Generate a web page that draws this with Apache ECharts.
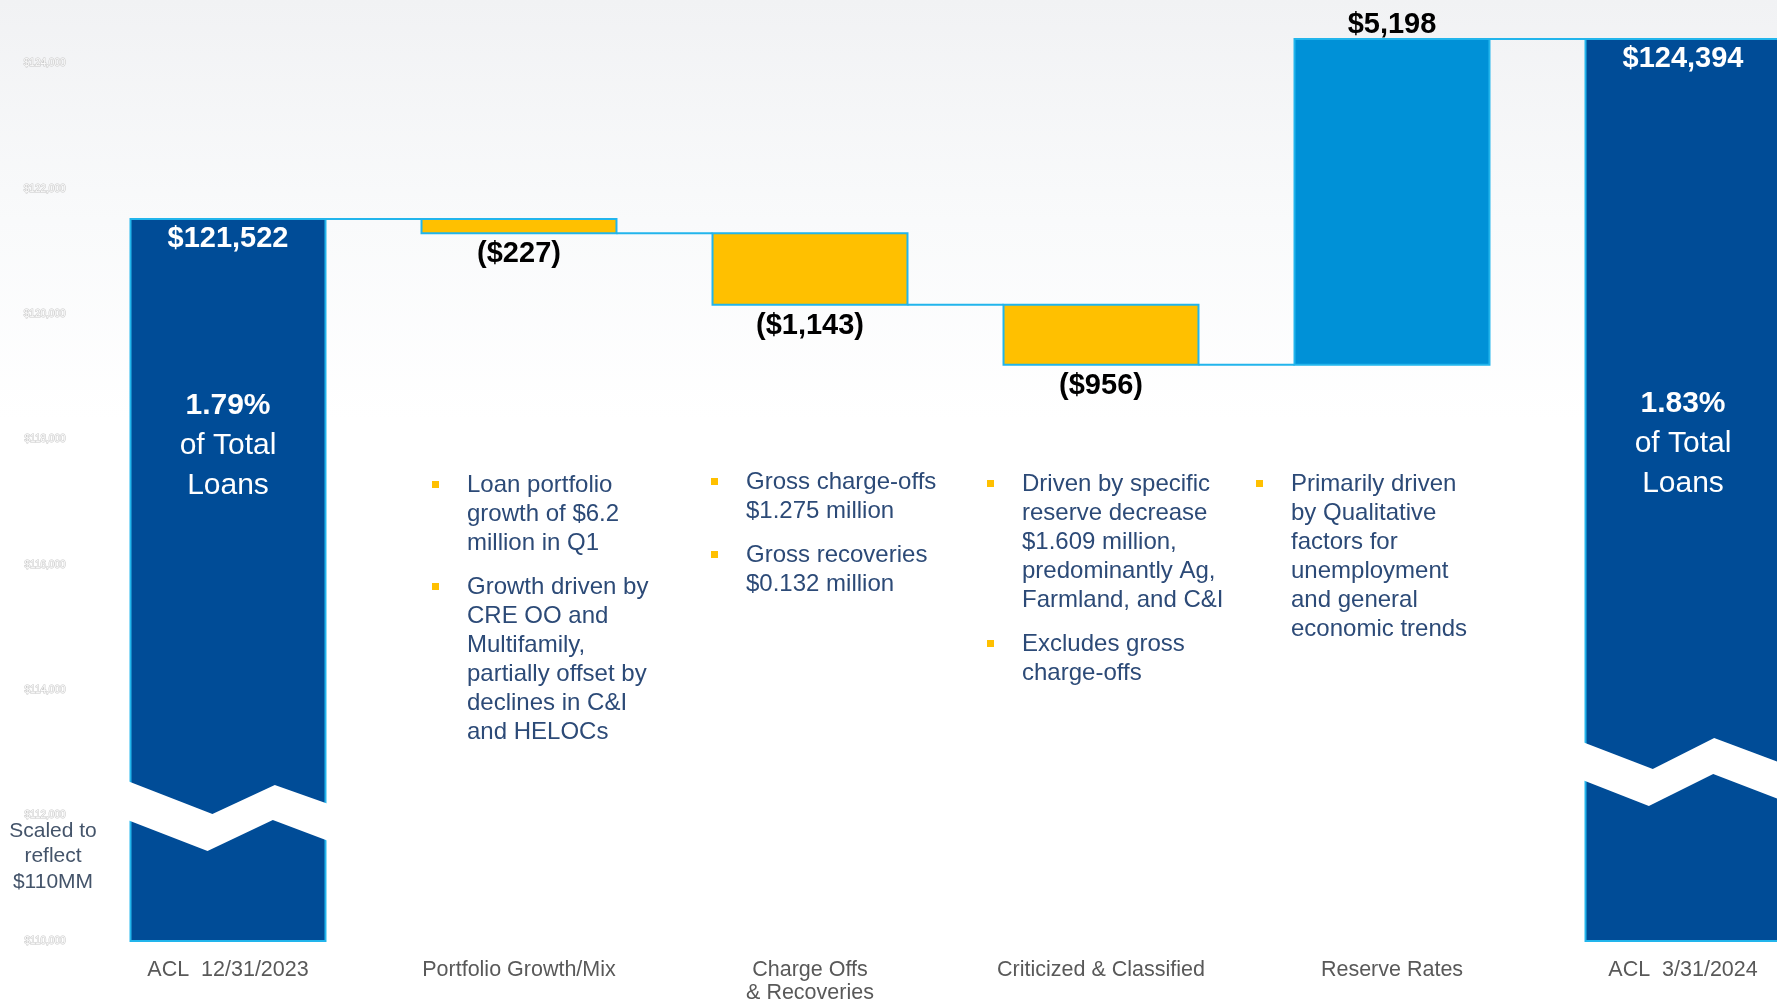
<!DOCTYPE html>
<html>
<head>
<meta charset="utf-8">
<title>Allowance for Credit Losses Walk</title>
<script src="https://cdn.jsdelivr.net/npm/echarts@6/dist/echarts.min.js"></script>
<style>
  html, body { margin: 0; padding: 0; background: #ffffff; }
  #chart { width: 1777px; height: 1002px; }
</style>
</head>
<body>
<div id="chart"></div>
<script>
// ---- data (in $ thousands) ----
const categories = ['ACL  12/31/2023', 'Portfolio Growth/Mix', 'Charge Offs\n& Recoveries',
  'Criticized & Classified', 'Reserve Rates', 'ACL  3/31/2024'];
const openingAcl = 121522;
const changes = [-227, -1143, -956, 5198];
const closingAcl = 124394;
const pctOfLoans = ['1.79%', '1.83%'];
const axisFloor = 110000;     // scaled axis base ($110MM)
const axisCeil = 125000;
const tickStep = 2000;

const noteTexts = [
  ['Loan portfolio\ngrowth of $6.2\nmillion in Q1',
   'Growth driven by\nCRE OO and\nMultifamily,\npartially offset by\ndeclines in C&I\nand HELOCs'],
  ['Gross charge-offs\n$1.275 million',
   'Gross recoveries\n$0.132 million'],
  ['Driven by specific\nreserve decrease\n$1.609 million,\npredominantly Ag,\nFarmland, and C&I',
   'Excludes gross\ncharge-offs'],
  ['Primarily driven\nby Qualitative\nfactors for\nunemployment\nand general\neconomic trends']
];

// ---- styling ----
const NAVY = '#004C97';
const GOLD = '#FFC000';
const SKY = '#0091D7';
const EDGE = '#22B5EC';
const NOTE_COLOR = '#2C4A77';
const FONT = 'Liberation Sans, Arial, sans-serif';
const BAR_RATIO = 0.67;

// zig-zag break across the total bars: [fraction of bar width, px above bar base]
const breakShapes = {
  0: { top: [[0, 160], [0.42, 127], [0.74, 156], [1, 137]],
       bottom: [[0, 121], [0.395, 90], [0.73, 121], [1, 100]] },
  5: { top: [[0, 199], [0.345, 172], [0.66, 203], [1, 177]],
       bottom: [[0, 161], [0.325, 135], [0.655, 167], [1, 140]] }
};

// ---- waterfall geometry from the values ----
// [category index, low, high, kind (0 total, 1 decrease, 2 increase), labelled value]
const barData = [[0, axisFloor, openingAcl, 0, openingAcl]];
const connectorData = [[0, openingAcl]];
let running = openingAcl;
changes.forEach((d, k) => {
  const next = running + d;
  barData.push([k + 1, Math.min(running, next), Math.max(running, next), d < 0 ? 1 : 2, d]);
  running = next;
  connectorData.push([k + 1, running]);
});
barData.push([5, axisFloor, closingAcl, 0, closingAcl]);

function money(v) {
  const s = '$' + Math.abs(v).toLocaleString('en-US');
  return v < 0 ? '(' + s + ')' : s;
}

function renderBar(params, api) {
  const idx = api.value(0);
  const lo = api.value(1), hi = api.value(2);
  const kind = api.value(3), val = api.value(4);
  const pTop = api.coord([idx, hi]);
  const pBot = api.coord([idx, lo]);
  const w = api.size([1, 0])[0] * BAR_RATIO;
  const left = pTop[0] - w / 2;
  const fill = kind === 0 ? NAVY : (kind === 1 ? GOLD : SKY);
  const children = [{
    type: 'rect',
    shape: { x: left, y: pTop[1], width: w, height: pBot[1] - pTop[1] },
    style: { fill: fill, stroke: EDGE, lineWidth: 2 }
  }];
  const bs = breakShapes[idx];
  if (kind === 0 && bs) {
    const px = f => left + f * w + (f === 0 ? -3 : (f === 1 ? 3 : 0));
    const pts = bs.top.map(p => [px(p[0]), pBot[1] - p[1]])
      .concat(bs.bottom.slice().reverse().map(p => [px(p[0]), pBot[1] - p[1]]));
    children.push({ type: 'polygon', shape: { points: pts }, style: { fill: '#ffffff' } });
  }
  // value label
  let ly, color;
  if (kind === 0) { ly = pTop[1] + 20; color = '#ffffff'; }
  else if (kind === 1) { ly = pBot[1] + 21; color = '#000000'; }
  else { ly = pTop[1] - 14; color = '#000000'; }
  children.push({
    type: 'text',
    style: {
      text: money(val), x: pTop[0], y: ly, fill: color,
      fontSize: 29, fontWeight: 'bold', fontFamily: FONT,
      align: 'center', verticalAlign: 'middle'
    }
  });
  if (kind === 0) {
    const pct = idx === 0 ? pctOfLoans[0] : pctOfLoans[1];
    const cs = params.coordSys;
    // block is centred on its middle line ("of Total")
    children.push({
      type: 'text',
      style: {
        text: '{b|' + pct + '}\n{r|of Total}\n{r|Loans}',
        x: pTop[0], y: cs.y + cs.height * (idx === 0 ? 0.4735 : 0.4715),
        align: 'center', verticalAlign: 'middle',
        rich: {
          b: { fontSize: 30, fontWeight: 'bold', fontFamily: FONT, fill: '#ffffff', lineHeight: 40, align: 'center' },
          r: { fontSize: 30, fontFamily: FONT, fill: '#ffffff', lineHeight: 40, align: 'center' }
        }
      }
    });
  }
  return { type: 'group', children: children };
}

function renderConnector(params, api) {
  const idx = api.value(0);
  const p = api.coord([idx, api.value(1)]);
  const band = api.size([1, 0])[0];
  const w = band * BAR_RATIO;
  return {
    type: 'line',
    shape: { x1: p[0] + w / 2, y1: p[1], x2: p[0] + band - w / 2, y2: p[1] },
    style: { stroke: EDGE, lineWidth: 2 }
  };
}

// ---- commentary bullets ----
const noteX = [467, 746, 1022, 1291];
const noteFirstLine = [485, 482, 484, 484];
const NOTE_LH = 29;
const graphics = [{
  type: 'rect', z: -100, silent: true,
  shape: { x: 0, y: 0, width: 1777, height: 1002 },
  style: {
    fill: new echarts.graphic.LinearGradient(0, 0, 0, 1, [
      { offset: 0, color: '#f1f2f4' },
      { offset: 0.22, color: '#f9fafb' },
      { offset: 0.42, color: '#ffffff' },
      { offset: 1, color: '#ffffff' }
    ])
  }
}];
noteTexts.forEach((items, b) => {
  let y = noteFirstLine[b];
  items.forEach(txt => {
    const n = txt.split('\n').length;
    graphics.push({
      type: 'rect', silent: true,
      shape: { x: noteX[b] - 35, y: y - 4, width: 7, height: 7 },
      style: { fill: GOLD }
    });
    graphics.push({
      type: 'text', silent: true,
      x: noteX[b], y: y - NOTE_LH / 2,
      style: { text: txt, fill: NOTE_COLOR, fontSize: 24, fontFamily: FONT, lineHeight: NOTE_LH, verticalAlign: 'top' }
    });
    y += n * NOTE_LH + 15;
  });
});
graphics.push({
  type: 'text', silent: true, x: 53, y: 818,
  style: {
    text: 'Scaled to\nreflect\n$110MM', fill: '#44546A', fontSize: 21, fontFamily: FONT,
    lineHeight: 25.5, align: 'center', verticalAlign: 'top'
  }
});

const chart = echarts.init(document.getElementById('chart'), null, { renderer: 'canvas' });
chart.setOption({
  animation: false,
  backgroundColor: '#ffffff',
  grid: { left: 82.5, top: 1, width: 1746, height: 940, outerBoundsMode: 'none', containLabel: false },
  xAxis: {
    type: 'category',
    data: categories,
    axisLine: { show: false },
    axisTick: { show: false },
    splitLine: { show: false },
    axisLabel: {
      interval: 0, margin: 17, color: '#595959', fontSize: 21.5, fontFamily: FONT, lineHeight: 23.5
    }
  },
  yAxis: {
    type: 'value',
    min: axisFloor, max: axisCeil, interval: tickStep,
    axisLine: { show: false },
    axisTick: { show: false },
    splitLine: { show: false },
    axisLabel: {
      showMaxLabel: false, margin: 17, fontSize: 10, fontFamily: FONT,
      color: '#fbfbfb', textBorderColor: '#cacaca', textBorderWidth: 1.1,
      formatter: v => '$' + v.toLocaleString('en-US')
    }
  },
  graphic: { elements: graphics },
  series: [
    {
      type: 'custom', name: 'connectors', z: 1,
      renderItem: renderConnector,
      encode: { x: 0, y: 1 },
      data: connectorData
    },
    {
      type: 'custom', name: 'ACL walk', z: 2,
      renderItem: renderBar,
      encode: { x: 0, y: [1, 2] },
      data: barData
    }
  ]
});
</script>
</body>
</html>
